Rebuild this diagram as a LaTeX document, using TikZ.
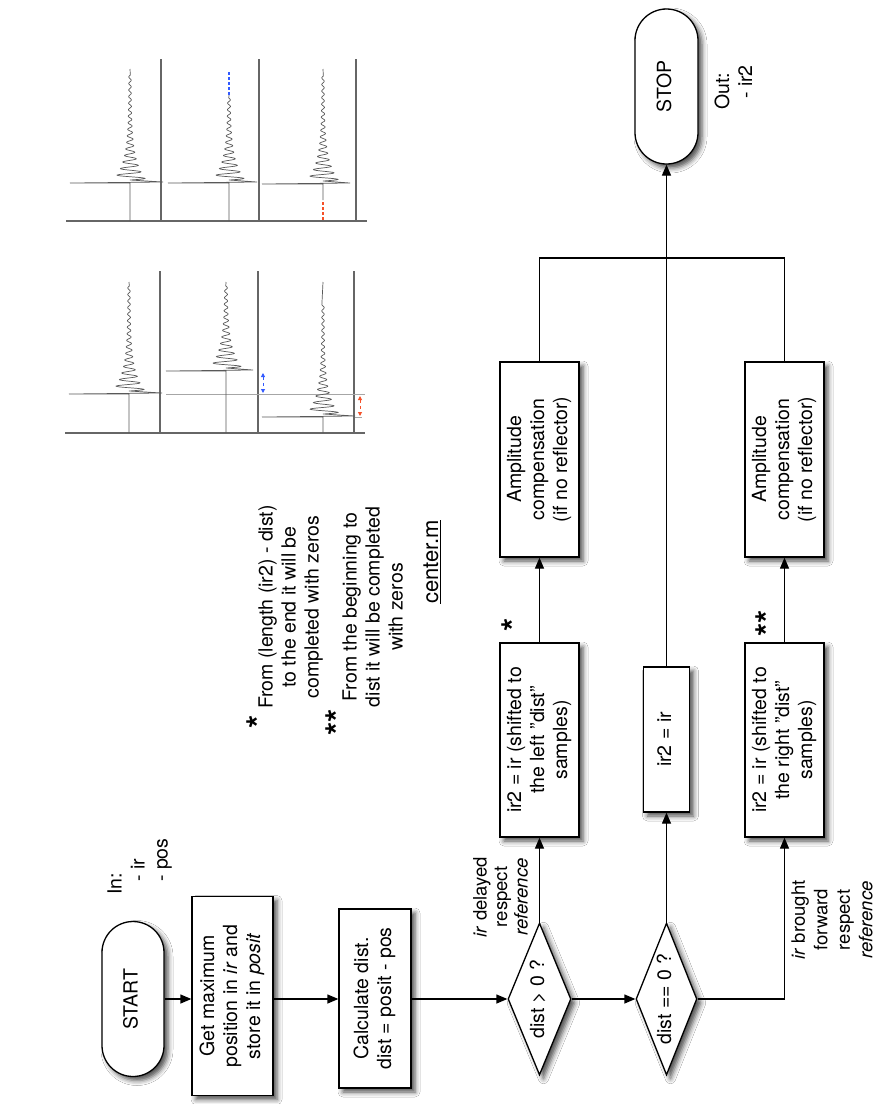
\documentclass[tikz,border=0pt]{standalone}
\usepackage{fontspec}
\setmainfont{TeX Gyre Heros}
\usepackage{graphicx}
\usetikzlibrary{arrows.meta,shapes.geometric,shadows.blur}
\definecolor{zblue}{RGB}{50,90,255}
\definecolor{zred}{RGB}{245,80,40}
\newcommand\rt[1]{\rotatebox{90}{\begin{tabular}{@{}c@{}}#1\end{tabular}}}
\newcommand\rtl[1]{\rotatebox{90}{\begin{tabular}{@{}l@{}}#1\end{tabular}}}
% #1 axis x, #2 spike y, #3 wiggle length, #4 top y, #5 bottom y, #6 left ext, #7 right ext
\newcommand\wtrace[7]{%
  \draw[tr] (#1,#5) -- (#1,#2) -- ({#1-#6},#2) -- ({#1+#7},{#2-1}) -- (#1,{#2-3})
    -- plot[domain=0:#3,samples=280] ({#1+(15*exp(-\x/20)+1.1)*sin(\x*55)},{#2-3-\x}) -- (#1,#4);
}
\begin{document}
\begin{tikzpicture}[x=1pt,y=-1pt,
  font=\fontsize{19.5}{23}\selectfont,
  shadowed/.style={blur shadow={shadow xshift=4pt,shadow yshift=-4pt,shadow opacity=70,shadow blur radius=5pt}},
  box/.style={draw,line width=1.3pt,fill=white,shadowed,inner sep=0pt,rectangle},
  term/.style={box,rounded corners=31pt},
  dec/.style={draw,line width=1.3pt,fill=white,shadowed,diamond,inner sep=0pt,aspect=0.41},
  conn/.style={line width=1.3pt},
  arr/.style={conn,-{Triangle[length=11pt,width=9pt]}},
  lbl/.style={inner sep=0pt},
  star/.style={inner sep=0pt,font=\fontsize{34}{34}\selectfont\bfseries},
  tr/.style={line width=0.7pt,black!65},
  sep/.style={line width=1.3pt,black!60},
  zarr/.style={line width=0.9pt,dashed,{Triangle[length=4pt,width=4pt]}-{Triangle[length=4pt,width=4pt]}},
]
\fill[white] (0,0) rectangle (877,1104);
\useasboundingbox (0,0) rectangle (877,1104);

% ---- flowchart nodes
\node[term,minimum width=62pt,minimum height=155pt] (start) at (133,999) {\rt{START}};
\node[box,minimum width=81pt,minimum height=199pt] (getmax) at (232.5,996) {\rt{Get maximum\\position in \textit{ir} and\\store it in \textit{posit}}};
\node[box,minimum width=72pt,minimum height=179pt] (calc) at (375,998.5) {\rt{Calculate dist.\\dist = posit - pos}};
\node[dec,minimum width=63pt,minimum height=152pt] (d1) at (539.5,999) {\rt{dist > 0 ?}};
\node[dec,minimum width=61pt,minimum height=152pt] (d2) at (666.5,999) {\rt{dist == 0 ?}};
\node[box,minimum width=79pt,minimum height=194pt] (left) at (539.5,740) {\rt{ir2 = ir (shifted to\\the left "dist"\\samples)}};
\node[box,minimum width=46pt,minimum height=145pt] (mid) at (666.5,739.5) {\rt{ir2 = ir}};
\node[box,minimum width=79pt,minimum height=194pt] (right) at (784.5,740) {\rt{ir2 = ir (shifted to\\the right "dist"\\samples)}};
\node[box,minimum width=79pt,minimum height=195pt] (amp1) at (539.5,459.5) {\rt{Amplitude\\compensation\\(if no reflector)}};
\node[box,minimum width=79pt,minimum height=195pt] (amp2) at (784.5,459.5) {\rt{Amplitude\\compensation\\(if no reflector)}};
\node[term,minimum width=63pt,minimum height=155pt,rounded corners=31.5pt] (stop) at (666.5,86.5) {\rt{STOP}};

% ---- connectors
\draw[arr] (start.east) -- (start.east -| getmax.west);
\draw[arr] (getmax.east |- start.east) -- (calc.west |- start.east);
\draw[arr] (calc.east |- d1.west) -- (d1.west);
\draw[arr] (d1.east) -- (d2.west);
\draw[arr] (d1.north) -- (left.south);
\draw[arr] (d2.north) -- (mid.south);
\draw[arr] (d2.east) -| (right.south);
\draw[arr] (left.north) -- (amp1.south);
\draw[arr] (right.north) -- (amp2.south);
\coordinate (mL) at (539.5,258);
\coordinate (mR) at (784.5,258);
\draw[conn] (amp1.north) -- (mL) -- (mR) -- (amp2.north);
\draw[arr] (mid.north) -- (stop.south);

% ---- labels
\node[lbl,anchor=south] (inlbl) at (140,895) {\rtl{In:\\\hspace{13pt}- ir\\\hspace{13pt}- pos}};
\node[lbl,anchor=south] (outlbl) at (736,110) {\rtl{Out:\\\hspace{11pt}- ir2}};
\node[lbl,font=\fontsize{18.5}{20.5}\selectfont] (lbl1) at (503,897) {\rt{\textit{ir} delayed\\respect\\\textit{reference}}};
\node[lbl,font=\fontsize{18.5}{22.5}\selectfont] (lbl2) at (834,920) {\rt{\textit{ir} brought\\forward\\respect\\\textit{reference}}};
\node[lbl] (fn1) at (291,607) {\rt{From (length (ir2) - dist)\\to the end it will be\\completed with zeros}};
\node[lbl] (fn2) at (375,607) {\rt{From the beginning to\\dist it will be completed\\with zeros}};
\node[star] (s1) at (259,722) {\rotatebox{90}{*}};
\node[star] (s2) at (338,722) {\rotatebox{90}{**}};
\node[star] (s3) at (514,625) {\rotatebox{90}{*}};
\node[star] (s4) at (768,623) {\rotatebox{90}{**}};
\node[lbl,font=\fontsize{22}{26}\selectfont] (title) at (432,562) {\rotatebox{90}{\underline{center.m}}};

% ---- waveform panel (lower)
\draw[sep] (65,433) -- (365,433);
\foreach \sx in {160,258,354} \draw[sep] (\sx,271) -- (\sx,433);
\draw[black!35,line width=0.7pt] (166,394) -- (365,394);
\draw[black!35,line width=0.7pt] (355,417) -- (362,417);
\wtrace{129}{394}{105}{282}{433}{60}{33}
\wtrace{226}{371}{82}{282}{433}{60}{27}
\wtrace{323}{417}{110}{282}{433}{61}{32}
\draw[zarr,zblue] (263,373) -- (263,393);
\draw[zarr,zred] (360,396) -- (360,416);

% ---- waveform panel (upper)
\draw[sep] (66,221) -- (367,221);
\foreach \sx in {161,259,356} \draw[sep] (\sx,59) -- (\sx,221);
\wtrace{130}{183}{105}{69}{221}{60}{33}
\wtrace{229}{183}{82}{95}{221}{61}{28}
\wtrace{323}{184}{105}{69}{200}{61}{27}
\draw[zblue,line width=1.3pt,dash pattern=on 2.5pt off 2.5pt] (229,72) -- (229,95);
\draw[zred,line width=1.3pt,dash pattern=on 2.5pt off 2.5pt] (323,202) -- (323,221);
\end{tikzpicture}
\end{document}
